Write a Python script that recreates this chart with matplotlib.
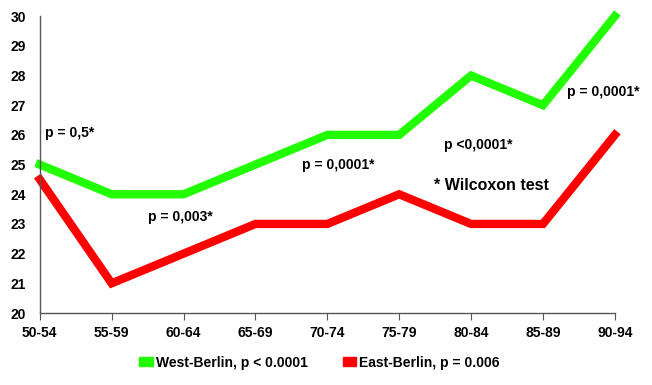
import matplotlib
matplotlib.use("Agg")
import matplotlib.pyplot as plt
from matplotlib.patches import Patch

categories = ["50-54", "55-59", "60-64", "65-69", "70-74", "75-79", "80-84", "85-89", "90-94"]
west = [25, 24, 24, 25, 26, 26, 28, 27, 30]
east = [24.5, 21, 22, 23, 23, 24, 23, 23, 26]
yticks = list(range(20, 31))

annotations = [
    ("p = 0,5*", 0.07, 26.05, "left", 10),
    ("p = 0,003*", 1.95, 23.25, "center", 10),
    ("p = 0,0001*", 4.15, 25.0, "center", 10),
    ("p <0,0001*", 6.1, 25.65, "center", 10),
    ("* Wilcoxon test", 6.29, 24.3, "center", 11.5),
    ("p = 0,0001*", 7.84, 27.45, "center", 10),
]

plt.rcParams['font.family'] = ['Liberation Sans', 'DejaVu Sans']
plt.rcParams['font.weight'] = 'bold'

fig = plt.figure(figsize=(6.52, 3.85), dpi=100)
ax = fig.add_axes([0.061, 0.187, 0.882, 0.771])

x = list(range(len(categories)))
ax.plot(x, west, color="#22ff00", lw=6, solid_joinstyle="miter", label="West-Berlin, p < 0.0001", clip_on=False)
ax.plot(x, east, color="#ff0000", lw=6, solid_joinstyle="miter", label="East-Berlin, p = 0.006", clip_on=False)

ax.set_xlim(0, len(categories) - 1)
ax.set_ylim(20, 30)
ax.set_xticks(x)
ax.set_xticklabels(categories, fontsize=10, fontweight='bold')
ax.set_yticks(yticks)
ax.set_yticklabels([str(v) for v in yticks], fontsize=10, fontweight='bold')
ax.tick_params(axis='y', length=0, pad=10)
ax.tick_params(axis='x', length=5, direction='out', pad=4, color='#555555')

for s in ['top', 'right']:
    ax.spines[s].set_visible(False)
for s in ['left', 'bottom']:
    ax.spines[s].set_color('#555555')
    ax.spines[s].set_linewidth(1)

for txt, xx, yy, ha, fs in annotations:
    ax.text(xx, yy, txt, ha=ha, va='center', fontsize=fs, fontweight='bold', color='black')

handles = [Patch(color="#22ff00"), Patch(color="#ff0000")]
fig.legend(handles, ["West-Berlin, p < 0.0001", "East-Berlin, p = 0.006"],
           loc='center', bbox_to_anchor=(0.49, 0.058), ncol=2, frameon=False,
           prop={'size': 10, 'weight': 'bold'}, handlelength=1.0, handleheight=0.6,
           handletextpad=0.2, columnspacing=2.5)

fig.savefig("out.png", dpi=100)
